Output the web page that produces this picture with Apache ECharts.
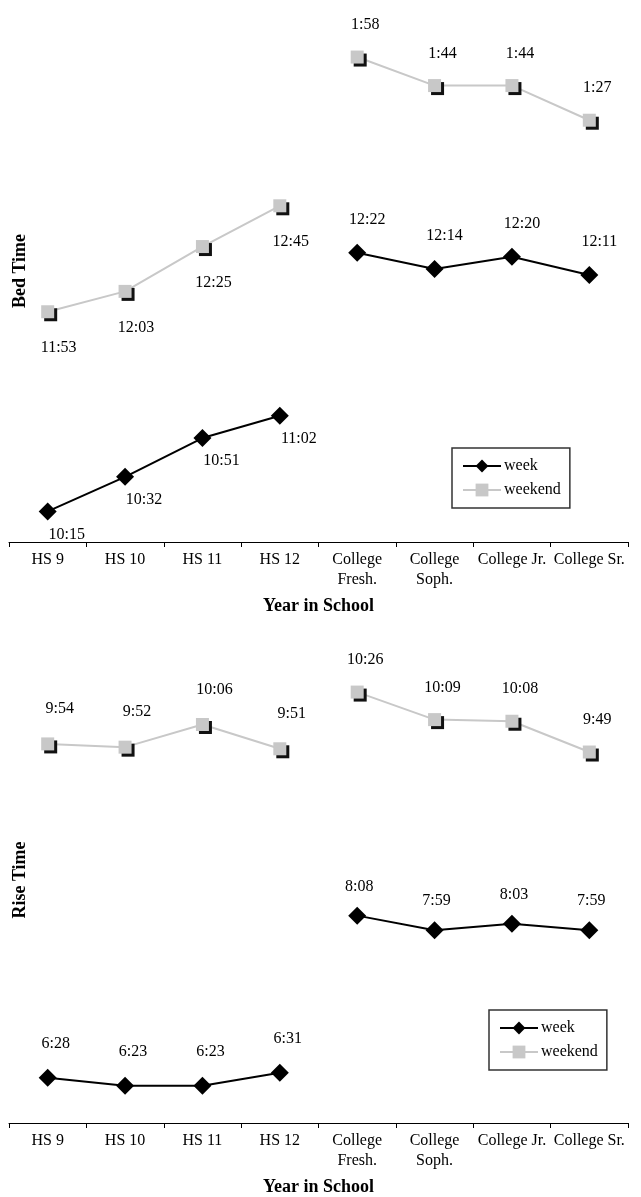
<!DOCTYPE html>
<html><head><meta charset="utf-8">
<script src="https://cdn.jsdelivr.net/npm/echarts@6/dist/echarts.min.js"></script>
<style>html,body{margin:0;padding:0;background:#fff}#c{width:641px;height:1197px}</style>
</head><body><div id="c"></div>
<script>
const categories = ['HS 9','HS 10','HS 11','HS 12','College\nFresh.','College\nSoph.','College Jr.','College Sr.'];
// Bed time (h:mm, evening / after midnight)
const weekBedHS = ['10:15','10:32','10:51','11:02'];
const weekBedCollege = ['12:22','12:14','12:20','12:11'];
const weekendBedHS = ['11:53','12:03','12:25','12:45'];
const weekendBedCollege = ['1:58','1:44','1:44','1:27'];
// Rise time (h:mm, morning)
const weekRiseHS = ['6:28','6:23','6:23','6:31'];
const weekRiseCollege = ['8:08','7:59','8:03','7:59'];
const weekendRiseHS = ['9:54','9:52','10:06','9:51'];
const weekendRiseCollege = ['10:26','10:09','10:08','9:49'];

function parse(s){ return s.split(':').map(Number); }
function bedMin(s){ const [h,m] = parse(s); return ((h + 2) % 12) * 60 + m; }   // minutes after 10:00 pm
function riseMin(s){ const [h,m] = parse(s); return (h - 6) * 60 + m; }         // minutes after 6:00 am

const FONT = 'Liberation Serif';
const NULLS = [null, null, null, null];

function mkSeries(name, strs, conv, isHS, gridIdx, off){
  const vals = strs.map(conv);
  const data = isHS ? vals.concat(NULLS) : NULLS.concat(vals);
  const start = isHS ? 0 : 4;
  const week = name === 'week';
  return {
    type: 'line', name: name,
    xAxisIndex: gridIdx, yAxisIndex: gridIdx,
    data: data, connectNulls: false,
    symbol: week ? 'diamond' : 'rect',
    symbolSize: week ? 18 : 13,
    z: week ? 3 : 2,
    lineStyle: { color: week ? '#000' : '#c8c8c8', width: 2 },
    itemStyle: week ? { color: '#000' } :
      { color: '#c8c8c8', shadowColor: '#111', shadowBlur: 0, shadowOffsetX: 3, shadowOffsetY: 3 },
    label: {
      show: true, position: 'inside', offset: off,
      color: '#000', fontFamily: FONT, fontSize: 16,
      textBorderWidth: 0,
      formatter: p => strs[p.dataIndex - start]
    },
    emphasis: { disabled: true }
  };
}

function xAx(gridIdx){
  return {
    type: 'category', gridIndex: gridIdx, data: categories,
    axisLine: { lineStyle: { color: '#000', width: 1 } },
    axisTick: { show: true, length: 5, lineStyle: { color: '#000' } },
    axisLabel: { interval: 0, color: '#000', fontFamily: FONT, fontSize: 16, lineHeight: 20, margin: 8 },
    name: 'Year in School', nameLocation: 'middle', nameGap: 55,
    nameTextStyle: { color: '#000', fontFamily: FONT, fontSize: 18, fontWeight: 'bold' },
    splitLine: { show: false }
  };
}
function yAx(gridIdx, name, max){
  return {
    type: 'value', gridIndex: gridIdx, min: 0, max: max,
    axisLine: { show: false }, axisTick: { show: false }, axisLabel: { show: false },
    splitLine: { show: false },
    name: name, nameLocation: 'middle', nameGap: -20, nameRotate: 90,
    nameTextStyle: { color: '#000', fontFamily: FONT, fontSize: 18, fontWeight: 'bold' }
  };
}
function legend(left, top){
  return {
    data: ['week', 'weekend'], orient: 'vertical', left: left, top: top,
    itemWidth: 38, itemHeight: 16, itemGap: 8,
    padding: [10, 9, 10, 10],
    borderColor: '#333', borderWidth: 1.5,
    textStyle: { color: '#000', fontFamily: FONT, fontSize: 16, padding: [0, 0, 0, -2] },
    itemStyle: { shadowBlur: 0, shadowOffsetX: 0, shadowOffsetY: 0, shadowColor: 'rgba(0,0,0,0)' },
    selectedMode: false
  };
}

const chart = echarts.init(document.getElementById('c'), null, { renderer: 'canvas' });
chart.setOption({
  animation: false,
  backgroundColor: '#fff',
  grid: [
    { left: 9, width: 619, top: -6, height: 548 },
    { left: 9, width: 619, top: 637, height: 486 }
  ],
  xAxis: [xAx(0), xAx(1)],
  yAxis: [yAx(0, 'Bed Time', 266), yAx(1, 'Rise Time', 300)],
  legend: [legend(452, 448), legend(489, 1010)],
  series: [
    mkSeries('weekend', weekendBedHS, bedMin, true, 0, [11, 36]),
    mkSeries('weekend', weekendBedCollege, bedMin, false, 0, [8, -32]),
    mkSeries('week', weekBedHS, bedMin, true, 0, [19, 23]),
    mkSeries('week', weekBedCollege, bedMin, false, 0, [10, -33]),
    mkSeries('weekend', weekendRiseHS, riseMin, true, 1, [12, -35]),
    mkSeries('weekend', weekendRiseCollege, riseMin, false, 1, [8, -32]),
    mkSeries('week', weekRiseHS, riseMin, true, 1, [8, -34]),
    mkSeries('week', weekRiseCollege, riseMin, false, 1, [2, -29])
  ]
});
</script>
</body></html>
